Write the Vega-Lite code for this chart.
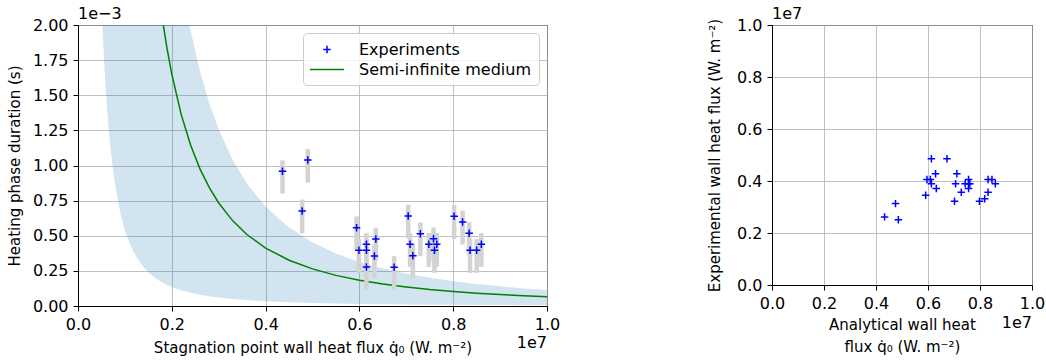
{
  "$schema": "https://vega.github.io/schema/vega-lite/v6.json",
  "background": "white",
  "padding": {"left": 6, "top": 5, "right": 5, "bottom": 5},
  "spacing": 146,
  "config": {
    "font": "DejaVu Sans",
    "view": {"stroke": "black", "strokeWidth": 1},
    "axis": {
      "labelFontSize": 16, "titleFontSize": 15, "labelColor": "black", "titleColor": "black",
      "titleFontWeight": "normal", "tickColor": "black", "domainColor": "black", "tickSize": 5,
      "labelPadding": 5, "gridColor": "#b0b0b0", "gridWidth": 0.8, "labelFlush": false, "labelOverlap": false
    },
    "legend": {
      "orient": "top-right", "offset": 8, "padding": 7, "fillColor": "rgba(255,255,255,0.8)",
      "strokeColor": "#cccccc", "cornerRadius": 4, "labelFontSize": 16, "labelColor": "black",
      "symbolSize": 256, "rowPadding": 2, "labelOffset": 30, "labelLimit": 400
    }
  },
  "resolve": {"scale": {"color": "independent"}, "legend": {"color": "independent"}},
  "datasets": {
    "exp": [
      {"q": 0.436, "t": 0.959, "lo": 0.800, "hi": 1.037},
      {"q": 0.490, "t": 1.039, "lo": 0.878, "hi": 1.117},
      {"q": 0.478, "t": 0.676, "lo": 0.517, "hi": 0.757},
      {"q": 0.594, "t": 0.557, "lo": 0.397, "hi": 0.637},
      {"q": 0.599, "t": 0.396, "lo": 0.236, "hi": 0.476},
      {"q": 0.615, "t": 0.439, "lo": 0.279, "hi": 0.519},
      {"q": 0.615, "t": 0.396, "lo": 0.236, "hi": 0.476},
      {"q": 0.615, "t": 0.278, "lo": 0.118, "hi": 0.358},
      {"q": 0.635, "t": 0.477, "lo": 0.317, "hi": 0.557},
      {"q": 0.632, "t": 0.356, "lo": 0.196, "hi": 0.436},
      {"q": 0.674, "t": 0.275, "lo": 0.115, "hi": 0.355},
      {"q": 0.704, "t": 0.641, "lo": 0.481, "hi": 0.721},
      {"q": 0.708, "t": 0.439, "lo": 0.279, "hi": 0.519},
      {"q": 0.714, "t": 0.358, "lo": 0.198, "hi": 0.438},
      {"q": 0.730, "t": 0.515, "lo": 0.355, "hi": 0.595},
      {"q": 0.748, "t": 0.439, "lo": 0.279, "hi": 0.519},
      {"q": 0.758, "t": 0.479, "lo": 0.319, "hi": 0.559},
      {"q": 0.765, "t": 0.439, "lo": 0.279, "hi": 0.519},
      {"q": 0.760, "t": 0.396, "lo": 0.236, "hi": 0.476},
      {"q": 0.802, "t": 0.638, "lo": 0.478, "hi": 0.718},
      {"q": 0.820, "t": 0.598, "lo": 0.438, "hi": 0.678},
      {"q": 0.834, "t": 0.517, "lo": 0.357, "hi": 0.597},
      {"q": 0.836, "t": 0.396, "lo": 0.236, "hi": 0.476},
      {"q": 0.850, "t": 0.396, "lo": 0.236, "hi": 0.476},
      {"q": 0.860, "t": 0.439, "lo": 0.279, "hi": 0.519}
    ],
    "model": [
      {"q": 0.050, "lo": 2.16, "mid": 26.4, "hi": 45.2},
      {"q": 0.052, "lo": 1.997, "mid": 24.4, "hi": 41.8},
      {"q": 0.055, "lo": 1.785, "mid": 21.8, "hi": 37.4},
      {"q": 0.060, "lo": 1.5, "mid": 18.3, "hi": 31.4},
      {"q": 0.065, "lo": 1.278, "mid": 15.6, "hi": 26.7},
      {"q": 0.070, "lo": 1.102, "mid": 13.5, "hi": 23.1},
      {"q": 0.075, "lo": 0.96, "mid": 11.7, "hi": 20.1},
      {"q": 0.080, "lo": 0.844, "mid": 10.3, "hi": 17.7},
      {"q": 0.090, "lo": 0.667, "mid": 8.15, "hi": 13.95},
      {"q": 0.100, "lo": 0.54, "mid": 6.6, "hi": 11.3},
      {"q": 0.110, "lo": 0.446, "mid": 5.45, "hi": 9.34},
      {"q": 0.120, "lo": 0.375, "mid": 4.58, "hi": 7.85},
      {"q": 0.130, "lo": 0.320, "mid": 3.91, "hi": 6.69},
      {"q": 0.140, "lo": 0.276, "mid": 3.37, "hi": 5.77},
      {"q": 0.150, "lo": 0.240, "mid": 2.93, "hi": 5.02},
      {"q": 0.160, "lo": 0.211, "mid": 2.58, "hi": 4.41},
      {"q": 0.170, "lo": 0.187, "mid": 2.28, "hi": 3.91},
      {"q": 0.180, "lo": 0.167, "mid": 2.04, "hi": 3.49},
      {"q": 0.190, "lo": 0.150, "mid": 1.83, "hi": 3.13},
      {"q": 0.200, "lo": 0.135, "mid": 1.65, "hi": 2.83},
      {"q": 0.220, "lo": 0.112, "mid": 1.364, "hi": 2.33},
      {"q": 0.240, "lo": 0.094, "mid": 1.146, "hi": 1.962},
      {"q": 0.260, "lo": 0.080, "mid": 0.976, "hi": 1.672},
      {"q": 0.280, "lo": 0.069, "mid": 0.842, "hi": 1.441},
      {"q": 0.300, "lo": 0.060, "mid": 0.733, "hi": 1.256},
      {"q": 0.330, "lo": 0.050, "mid": 0.606, "hi": 1.038},
      {"q": 0.360, "lo": 0.042, "mid": 0.509, "hi": 0.872},
      {"q": 0.400, "lo": 0.034, "mid": 0.4125, "hi": 0.706},
      {"q": 0.450, "lo": 0.027, "mid": 0.326, "hi": 0.558},
      {"q": 0.500, "lo": 0.022, "mid": 0.264, "hi": 0.452},
      {"q": 0.550, "lo": 0.018, "mid": 0.218, "hi": 0.374},
      {"q": 0.600, "lo": 0.015, "mid": 0.183, "hi": 0.314},
      {"q": 0.650, "lo": 0.013, "mid": 0.156, "hi": 0.267},
      {"q": 0.700, "lo": 0.011, "mid": 0.135, "hi": 0.231},
      {"q": 0.750, "lo": 0.0096, "mid": 0.117, "hi": 0.201},
      {"q": 0.800, "lo": 0.0084, "mid": 0.103, "hi": 0.177},
      {"q": 0.850, "lo": 0.0075, "mid": 0.0913, "hi": 0.156},
      {"q": 0.900, "lo": 0.0067, "mid": 0.0815, "hi": 0.140},
      {"q": 0.950, "lo": 0.006, "mid": 0.0731, "hi": 0.125},
      {"q": 1.000, "lo": 0.0054, "mid": 0.066, "hi": 0.113}
    ],
    "cmp": [
      {"ana": 0.613, "exp": 0.486}, {"ana": 0.673, "exp": 0.486}, {"ana": 0.629, "exp": 0.428},
      {"ana": 0.711, "exp": 0.428}, {"ana": 0.596, "exp": 0.406}, {"ana": 0.609, "exp": 0.406},
      {"ana": 0.613, "exp": 0.389}, {"ana": 0.632, "exp": 0.371}, {"ana": 0.591, "exp": 0.345},
      {"ana": 0.706, "exp": 0.389}, {"ana": 0.728, "exp": 0.357}, {"ana": 0.702, "exp": 0.322},
      {"ana": 0.743, "exp": 0.389}, {"ana": 0.756, "exp": 0.406}, {"ana": 0.756, "exp": 0.389},
      {"ana": 0.761, "exp": 0.389}, {"ana": 0.756, "exp": 0.371}, {"ana": 0.831, "exp": 0.406},
      {"ana": 0.846, "exp": 0.406}, {"ana": 0.859, "exp": 0.389}, {"ana": 0.831, "exp": 0.357},
      {"ana": 0.818, "exp": 0.332}, {"ana": 0.798, "exp": 0.322}, {"ana": 0.475, "exp": 0.313},
      {"ana": 0.433, "exp": 0.262}, {"ana": 0.486, "exp": 0.251}
    ]
  },
  "hconcat": [
    {
      "width": 469,
      "height": 281,
      "encoding": {
        "x": {"type": "quantitative", "scale": {"domain": [0, 1], "nice": false},
              "axis": {"values": [0, 0.2, 0.4, 0.6, 0.8, 1.0], "format": ".1f", "titlePadding": 8,
                       "title": "Stagnation point wall heat flux q̇₀ (W. m⁻²)"}},
        "y": {"type": "quantitative", "scale": {"domain": [0, 2], "nice": false},
              "axis": {"values": [0, 0.25, 0.5, 0.75, 1.0, 1.25, 1.5, 1.75, 2.0], "format": ".2f",
                       "titlePadding": 10, "title": "Heating phase duration (s)"}}
      },
      "layer": [
        {
          "data": {"name": "model"},
          "mark": {"type": "area", "clip": true, "fill": "#1f77b4", "fillOpacity": 0.2},
          "encoding": {
            "x": {"field": "q"},
            "y": {"field": "lo"},
            "y2": {"field": "hi"}
          }
        },
        {
          "data": {"name": "model"},
          "transform": [{"filter": "datum.q >= 0.15"}],
          "mark": {"type": "line", "clip": true, "strokeWidth": 1.5},
          "encoding": {
            "x": {"field": "q"},
            "y": {"field": "mid"},
            "color": {
              "datum": "Semi-infinite medium",
              "scale": {"domain": ["Experiments", "Semi-infinite medium"], "range": ["blue", "green"]},
              "legend": {
                "title": null,
                "encode": {
                  "symbols": {
                    "update": {
                      "x": {"value": 17},
                      "shape": {"signal": "datum.value === 'Experiments' ? 'M-1,0L1,0M0,-1L0,1' : 'M-2,0L2,0'"},
                      "size": {"signal": "datum.value === 'Experiments' ? 56 : 289"},
                      "strokeWidth": {"value": 1.5},
                      "fill": {"value": "transparent"},
                      "stroke": {"signal": "datum.value === 'Experiments' ? 'blue' : 'green'"}
                    }
                  }
                }
              }
            }
          }
        },
        {
          "data": {"name": "exp"},
          "mark": {"type": "rule", "color": "#d3d3d3", "strokeWidth": 4.5},
          "encoding": {
            "x": {"field": "q"},
            "y": {"field": "lo"},
            "y2": {"field": "hi"}
          }
        },
        {
          "data": {"name": "exp"},
          "mark": {"type": "point", "shape": "M-1,0L1,0M0,-1L0,1", "filled": false, "strokeWidth": 1.5, "size": 56, "opacity": 1},
          "encoding": {
            "x": {"field": "q"},
            "y": {"field": "t"},
            "color": {"datum": "Experiments"}
          }
        },
        {
          "data": {"values": [{}]},
          "mark": {"type": "text", "align": "left", "baseline": "bottom", "dy": -3, "fontSize": 16, "color": "black"},
          "encoding": {
            "x": {"datum": 0},
            "y": {"datum": 2},
            "text": {"value": "1e−3"}
          }
        },
        {
          "data": {"values": [{}]},
          "mark": {"type": "text", "align": "right", "baseline": "middle", "dy": 37, "fontSize": 16, "color": "black"},
          "encoding": {
            "x": {"datum": 1},
            "y": {"datum": 0},
            "text": {"value": "1e7"}
          }
        }
      ]
    },
    {
      "width": 260,
      "height": 260,
      "encoding": {
        "x": {"type": "quantitative", "scale": {"domain": [0, 1], "nice": false},
              "axis": {"values": [0, 0.2, 0.4, 0.6, 0.8, 1.0], "format": ".1f", "titlePadding": 6,
                       "titleLineHeight": 22, "title": ["Analytical wall heat", "flux q̇₀ (W. m⁻²)"]}},
        "y": {"type": "quantitative", "scale": {"domain": [0, 1], "nice": false},
              "axis": {"values": [0, 0.2, 0.4, 0.6, 0.8, 1.0], "format": ".1f", "titlePadding": 14,
                       "title": "Experimental wall heat flux (W. m⁻²)"}}
      },
      "layer": [
        {
          "data": {"name": "cmp"},
          "mark": {"type": "point", "shape": "M-1,0L1,0M0,-1L0,1", "filled": false, "color": "blue", "strokeWidth": 1.5, "size": 56, "opacity": 1},
          "encoding": {
            "x": {"field": "ana"},
            "y": {"field": "exp"}
          }
        },
        {
          "data": {"values": [{}]},
          "mark": {"type": "text", "align": "left", "baseline": "bottom", "dy": -3, "fontSize": 16, "color": "black"},
          "encoding": {
            "x": {"datum": 0},
            "y": {"datum": 1},
            "text": {"value": "1e7"}
          }
        },
        {
          "data": {"values": [{}]},
          "mark": {"type": "text", "align": "right", "baseline": "middle", "dy": 38, "fontSize": 16, "color": "black"},
          "encoding": {
            "x": {"datum": 1},
            "y": {"datum": 0},
            "text": {"value": "1e7"}
          }
        }
      ]
    }
  ]
}
